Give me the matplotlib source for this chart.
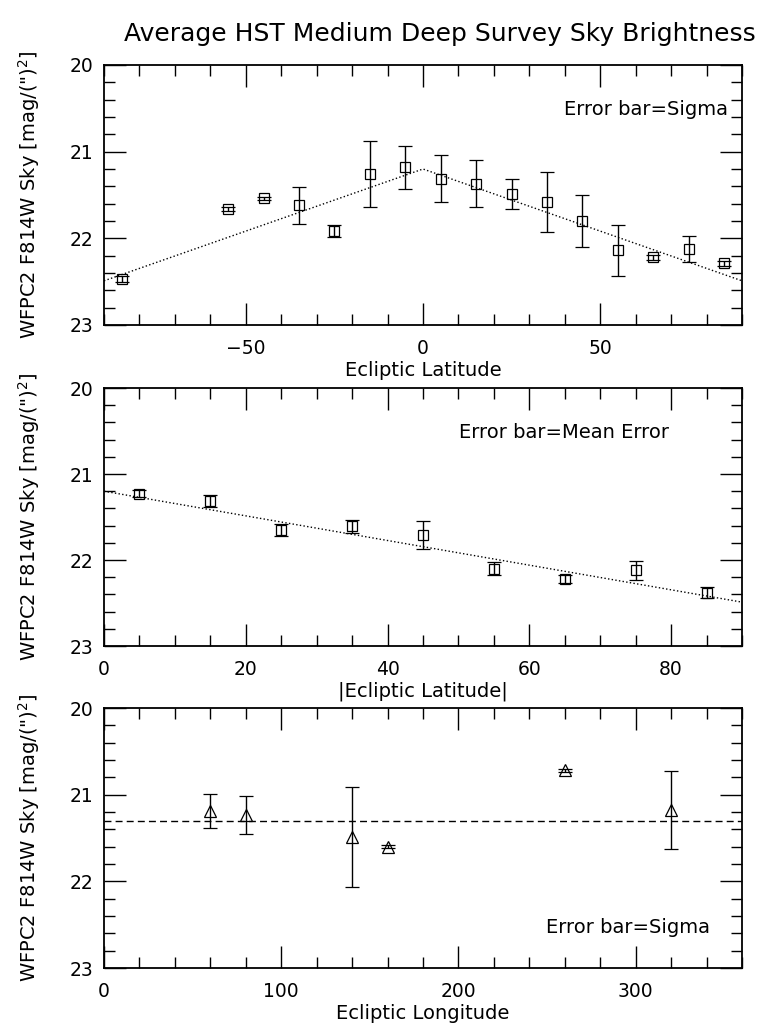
import numpy as np
import matplotlib
matplotlib.use("Agg")
import matplotlib.pyplot as plt
from matplotlib.ticker import MultipleLocator

# sky brightness binned by ecliptic latitude (sigma errors)
lat = [-85, -55, -45, -35, -25, -15, -5, 5, 15, 25, 35, 45, 55, 65, 75, 85]
lat_sky = [22.47, 21.66, 21.54, 21.62, 21.92, 21.26, 21.18, 21.31,
           21.37, 21.49, 21.58, 21.80, 22.14, 22.22, 22.12, 22.29]
lat_sigma = [0.03, 0.02, 0.02, 0.21, 0.07, 0.38, 0.25, 0.27,
             0.27, 0.17, 0.35, 0.30, 0.29, 0.03, 0.15, 0.03]

# binned by |ecliptic latitude| (mean errors)
abs_lat = [5, 15, 25, 35, 45, 55, 65, 75, 85]
abs_sky = [21.23, 21.31, 21.65, 21.61, 21.71, 22.10, 22.22, 22.12, 22.38]
abs_err = [0.04, 0.07, 0.07, 0.08, 0.16, 0.08, 0.05, 0.11, 0.065]

# binned by ecliptic longitude (sigma errors)
lon = [60, 80, 140, 160, 260, 320]
lon_sky = [21.19, 21.23, 21.49, 21.60, 20.72, 21.18]
lon_sigma = [0.20, 0.22, 0.58, 0.02, 0.02, 0.45]

# linear fit in |latitude| and mean over longitude
fit_abs_lat = [0, 90]
fit_sky = [21.20, 22.49]
mean_sky = 21.30

ylabel = 'WFPC2 F814W Sky [mag/(")$^2$]'

fig = plt.figure(figsize=(7.58, 10.24), dpi=100)
left, width, height = 104 / 758, 638 / 758, 260 / 1024
ax1 = fig.add_axes([left, 1 - 325 / 1024, width, height])
ax2 = fig.add_axes([left, 1 - 646 / 1024, width, 258 / 1024])
ax3 = fig.add_axes([left, 1 - 968 / 1024, width, height])

err_kw = dict(fmt="s", ms=7.5, mfc="none", mec="black", mew=0.9,
              ecolor="black", elinewidth=1.0, capsize=5, capthick=1.0)

ax1.errorbar(lat, lat_sky, yerr=lat_sigma, **err_kw)
fx = [-fit_abs_lat[1], fit_abs_lat[0], fit_abs_lat[1]]
fy = [fit_sky[1], fit_sky[0], fit_sky[1]]
ax1.plot(fx, fy, ":", color="black", lw=1.0)
ax1.set_xlim(-90, 90)
ax1.xaxis.set_major_locator(MultipleLocator(50))
ax1.xaxis.set_minor_locator(MultipleLocator(10))
ax1.set_xlabel("Ecliptic Latitude", labelpad=2)
ax1.text(0.978, 0.827, "Error bar=Sigma", transform=ax1.transAxes,
         ha="right", va="center", fontsize=14)

ax2.errorbar(abs_lat, abs_sky, yerr=abs_err, **err_kw)
ax2.plot(fit_abs_lat, fit_sky, ":", color="black", lw=1.0)
ax2.set_xlim(0, 90)
ax2.xaxis.set_major_locator(MultipleLocator(20))
ax2.xaxis.set_minor_locator(MultipleLocator(5))
ax2.set_xlabel("|Ecliptic Latitude|", labelpad=2)
ax2.text(0.886, 0.828, "Error bar=Mean Error", transform=ax2.transAxes,
         ha="right", va="center", fontsize=14)

tri_kw = dict(err_kw, fmt="^", ms=9)
ax3.errorbar(lon, lon_sky, yerr=lon_sigma, **tri_kw)
ax3.axhline(mean_sky, ls="--", color="black", lw=1.0, dashes=(5, 3))
ax3.set_xlim(0, 360)
ax3.xaxis.set_major_locator(MultipleLocator(100))
ax3.xaxis.set_minor_locator(MultipleLocator(20))
ax3.set_xlabel("Ecliptic Longitude", labelpad=2)
ax3.text(0.95, 0.157, "Error bar=Sigma", transform=ax3.transAxes,
         ha="right", va="center", fontsize=14)

for ax in (ax1, ax2, ax3):
    ax.set_ylim(23, 20)
    ax.yaxis.set_major_locator(MultipleLocator(1))
    ax.yaxis.set_minor_locator(MultipleLocator(0.2))
    ax.tick_params(which="both", direction="in", top=True, right=True,
                   labelsize=13.5, width=1.0, color="black")
    ax.tick_params(axis="x", which="both", pad=10)
    ax.tick_params(axis="y", which="both", pad=8)
    ax.tick_params(which="major", length=16)
    ax.tick_params(which="minor", length=8)
    for s in ax.spines.values():
        s.set_linewidth(1.3)
    ax.xaxis.label.set_fontsize(14)
    ax.set_ylabel(ylabel, fontsize=14)
    ax.yaxis.set_label_coords(-0.097, 0.5)

fig.text(440 / 758, 1 - 41 / 1024, "Average HST Medium Deep Survey Sky Brightness",
         ha="center", va="baseline", fontsize=18)

fig.savefig("out.png", dpi=100)
